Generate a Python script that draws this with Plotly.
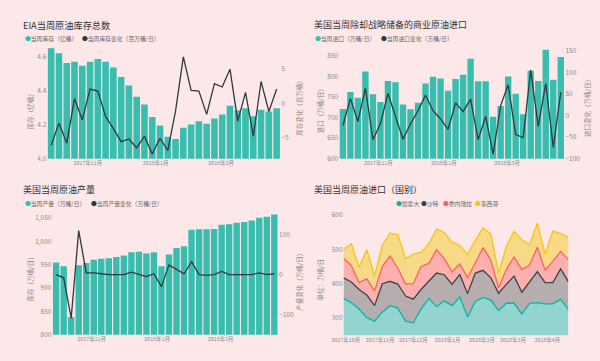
import plotly.graph_objects as go
import pandas as pd

# ---------------- data ----------------
weeks = pd.date_range("2017-09-29", periods=30, freq="7D")

# Panel 1: EIA crude inventory (亿桶) and weekly change (百万桶)
stock = [4.650, 4.621, 4.563, 4.571, 4.548, 4.571, 4.588, 4.571, 4.537, 4.481,
         4.431, 4.365, 4.319, 4.246, 4.196, 4.129, 4.117, 4.183, 4.202, 4.221,
         4.206, 4.237, 4.260, 4.312, 4.285, 4.298, 4.250, 4.288, 4.279, 4.298]
stock_chg = [-6.1, -2.9, -5.8, 0.7, -2.4, 2.1, 1.8, -1.9, -3.7, -5.6,
             -5.2, -6.5, -4.8, -7.4, -5.1, -6.9, -1.1, 6.8, 1.9, 1.8,
             -1.6, 2.9, 2.4, 5.0, -2.6, 1.6, -4.8, 3.2, -1.2, 2.1]

# Panel 2: commercial crude imports (万桶/日) and change
imports = [721, 762, 748, 812, 757, 738, 789, 786, 732, 720,
           736, 783, 799, 795, 765, 794, 804, 843, 788, 788,
           702, 728, 800, 758, 708, 814, 789, 865, 792, 847]
imports_chg = [-23, 39, -14, 63, -56, -19, 51, -2, -55, -19,
               11, 47, 11, -8, -32, 29, 9, 38, -56, -2,
               -89, 23, 71, -44, -51, 105, -25, 74, -74, 54]

# Panel 3: crude production (万桶/日) and change
prod = [955, 947, 838, 949, 954, 961, 963, 964, 967, 970,
        977, 978, 974, 977, 947, 972, 986, 990, 1025, 1026,
        1026, 1027, 1036, 1037, 1040, 1042, 1045, 1051, 1053, 1058]
prod_chg = [0, -8, -108, 109, 4, 4, 2, 0, 0, 0,
            6, 0, -5, 2, -30, 24, 12, 2, 32, 0,
            -2, 0, 8, 0, 0, 0, 0, 4, 0, 2]

# Panel 4: imports by country (万桶/日)
canada = [357, 345, 326, 301, 291, 317, 336, 329, 291, 286,
          326, 357, 333, 350, 336, 362, 303, 348, 360, 352,
          322, 343, 343, 312, 343, 345, 341, 341, 354, 325]
saudi = [60, 60, 57, 66, 45, 83, 71, 70, 73, 69,
         57, 50, 98, 76, 62, 65, 68, 83, 79, 65,
         50, 55, 79, 63, 63, 90, 62, 62, 89, 81]
venezuela = [57, 48, 20, 47, 43, 50, 74, 46, 35, 45,
             67, 52, 68, 47, 36, 31, 46, 28, 66, 52,
             16, 43, 56, 66, 48, 71, 36, 62, 51, 64]
mexico = [26, 64, 45, 85, 43, 62, 66, 98, 74, 86,
          41, 57, 60, 76, 87, 54, 68, 67, 57, 76,
          43, 67, 75, 87, 59, 71, 47, 88, 52, 65]

bar_ticks = ["2017-11-01", "2018-01-01", "2018-03-01"]
bar_ticktext = ["2017年11月", "2018年1月", "2018年3月"]
area_ticks = ["2017-10-01", "2017-11-01", "2017-12-01", "2018-01-01",
              "2018-02-01", "2018-03-01", "2018-04-01"]
area_ticktext = ["2017年10月", "2017年11月", "2017年12月", "2018年1月",
                 "2018年2月", "2018年3月", "2018年4月"]

# ---------------- style ----------------
BG = "#fde8e9"
BAR = "#38bdaf"
LINE = "#2c3a3d"
FONT = "Noto Sans CJK SC"
TICK = dict(family=FONT, size=6.5, color="#8a8a8a")
XTICK = dict(family=FONT, size=5.4, color="#8a8a8a")
C_CAN, C_SAU, C_VEN, C_MEX = "#01B8AA", "#374649", "#FD625E", "#F2C80F"
LEG_FS = 5.8


def fx(p):
    return p / 600.0


def fy(p):
    return 1 - p / 361.0


fig = go.Figure()

# Panel 1
fig.add_trace(go.Bar(x=weeks, y=stock, marker=dict(color=BAR, line=dict(width=0)),
                     name="当周库存（亿桶）", xaxis="x", yaxis="y"))
fig.add_trace(go.Scatter(x=weeks, y=stock_chg, mode="lines", line=dict(color=LINE, width=1.3),
                         name="当周库存变化（百万桶/日）", xaxis="x", yaxis="y2"))
# Panel 2
fig.add_trace(go.Bar(x=weeks, y=imports, marker=dict(color=BAR, line=dict(width=0)),
                     name="当周进口（万桶/日）", xaxis="x2", yaxis="y3"))
fig.add_trace(go.Scatter(x=weeks, y=imports_chg, mode="lines", line=dict(color=LINE, width=1.3),
                         name="当周进口变化（万桶/日）", xaxis="x2", yaxis="y4"))
# Panel 3
fig.add_trace(go.Bar(x=weeks, y=prod, marker=dict(color=BAR, line=dict(width=0)),
                     name="当周产量（万桶/日）", xaxis="x3", yaxis="y5"))
fig.add_trace(go.Scatter(x=weeks, y=prod_chg, mode="lines", line=dict(color=LINE, width=1.3),
                         name="当周产量变化（万桶/日）", xaxis="x3", yaxis="y6"))
# Panel 4 stacked areas
for name, vals, col, fill in [
    ("加拿大", canada, C_CAN, "rgba(1,184,170,0.42)"),
    ("沙特", saudi, C_SAU, "rgba(55,70,73,0.36)"),
    ("委内瑞拉", venezuela, C_VEN, "rgba(253,98,94,0.42)"),
    ("墨西哥", mexico, C_MEX, "rgba(242,200,15,0.45)"),
]:
    fig.add_trace(go.Scatter(x=weeks, y=vals, mode="lines", stackgroup="one",
                             line=dict(color=col, width=1.3), fillcolor=fill,
                             name=name, xaxis="x4", yaxis="y7"))

common_x = dict(showgrid=False, zeroline=False, showline=False, ticks="",
                tickfont=XTICK, type="date")
common_y = dict(showgrid=False, zeroline=False, showline=False, ticks="", tickfont=TICK)

fig.update_layout(
    width=600, height=361, autosize=False,
    margin=dict(l=0, r=0, t=0, b=0),
    paper_bgcolor=BG, plot_bgcolor=BG,
    showlegend=False, bargap=0.15,
    font=dict(family=FONT),
    xaxis=dict(common_x, domain=[fx(36), fx(274)], anchor="y",
               tickvals=bar_ticks, ticktext=bar_ticktext),
    yaxis=dict(common_y, domain=[fy(158.3), fy(45)], anchor="x", range=[4.0, 4.652],
               tickvals=[4.0, 4.2, 4.4, 4.6], tickformat=".1f"),
    yaxis2=dict(common_y, overlaying="y", side="right", anchor="x", range=[-8.1, 8.1],
                tickvals=[-5, 0, 5]),
    xaxis2=dict(common_x, domain=[fx(333.8), fx(563.8)], anchor="y3",
                tickvals=bar_ticks, ticktext=bar_ticktext),
    yaxis3=dict(common_y, domain=[fy(158.3), fy(45)], anchor="x2", range=[600, 869],
                dtick=50, tick0=600),
    yaxis4=dict(common_y, overlaying="y3", side="right", anchor="x2", range=[-100, 156],
                dtick=50, tick0=0),
    xaxis3=dict(common_x, domain=[fx(41.2), fx(271.5)], anchor="y5",
                tickvals=bar_ticks, ticktext=bar_ticktext),
    yaxis5=dict(common_y, domain=[fy(338.3), fy(213)], anchor="x3", range=[800, 1062.6],
                dtick=50, tick0=800, tickformat=","),
    yaxis6=dict(common_y, overlaying="y5", side="right", anchor="x3", range=[-149.5, 154.6],
                tickvals=[-100, 0, 100]),
    xaxis4=dict(common_x, domain=[fx(338.3), fx(567.7)], anchor="y7",
                tickvals=area_ticks, ticktext=area_ticktext),
    yaxis7=dict(common_y, domain=[fy(338.7), fy(214)], anchor="x4", range=[250, 605],
                tickvals=[300, 400, 500, 600]),
)

ann = []


def text(x, y, s, size, color, xanchor="left", angle=0):
    ann.append(dict(x=fx(x), y=fy(y), xref="paper", yref="paper", text=s, showarrow=False,
                    xanchor=xanchor, yanchor="middle", textangle=angle,
                    font=dict(family=FONT, size=size, color=color)))


def legend_item(text_start, y, color, label):
    text(text_start - LEG_FS, y, "<span style='color:%s'>●</span>%s" % (color, label),
         LEG_FS, "#666666")


TITLE_C = "#333333"
AX_C = "#8a8a8a"
# titles
text(9, 21, "EIA当周原油库存总数", 9.2, TITLE_C)
text(306, 21, "美国当周除却战略储备的商业原油进口", 9.0, TITLE_C)
text(9, 190, "美国当周原油产量", 9.0, TITLE_C)
text(306, 190, "美国当周原油进口（国别）", 9.0, TITLE_C)
# legends
legend_item(16.7, 35, BAR, "当周库存（亿桶）")
legend_item(75, 35, LINE, "当周库存变化（百万桶/日）")
legend_item(313.3, 35, BAR, "当周进口（万桶/日）")
legend_item(380.7, 35, LINE, "当周进口变化（万桶/日）")
legend_item(16.7, 204, BAR, "当周产量（万桶/日）")
legend_item(84, 204, LINE, "当周产量变化（万桶/日）")
legend_item(395.7, 204, C_CAN, "加拿大")
legend_item(420.7, 204, C_SAU, "沙特")
legend_item(444, 204, C_VEN, "委内瑞拉")
legend_item(476.7, 204, C_MEX, "墨西哥")
# axis titles
text(18, 108, "库存（亿桶）", 6.5, AX_C, "center", -90)
text(293, 105, "库存变化（百万桶）", 6.5, AX_C, "center", -90)
text(314, 108, "进口（万桶/日）", 6.5, AX_C, "center", -90)
text(586, 105, "进口变化（万桶/日）", 6.5, AX_C, "center", -90)
text(18, 280, "库存（万桶/日）", 6.5, AX_C, "center", -90)
text(293, 283, "产量变化（万桶/日）", 6.5, AX_C, "center", -90)
text(314, 282, "单位：万桶/日", 6.5, AX_C, "center", -90)

fig.update_layout(annotations=ann)
fig.write_html("out.html", config={"displayModeBar": False},
               post_script="document.body.style.margin='0';")
